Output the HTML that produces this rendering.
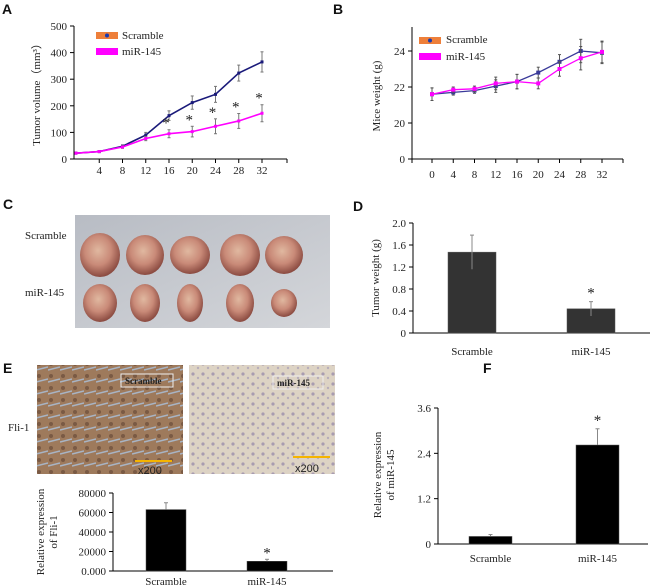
<!DOCTYPE html>
<html><head><meta charset="utf-8">
<style>
body{margin:0;background:#fff;}
#root{position:relative;width:650px;height:588px;overflow:hidden;background:#fff;}
svg text{font-family:"Liberation Serif",serif;fill:#222;}
.lbl{font-family:"Liberation Sans",sans-serif;font-weight:bold;font-size:14px;fill:#111;}
</style></head>
<body>
<div id="root">
<svg id="fig" width="650" height="588" xmlns="http://www.w3.org/2000/svg">
<defs>
<radialGradient id="tum" cx="45%" cy="40%" r="60%">
<stop offset="0%" stop-color="#e0b8a0"/><stop offset="55%" stop-color="#c98a78"/><stop offset="100%" stop-color="#8a4a40"/></radialGradient>
<linearGradient id="bg" x1="0" y1="0" x2="1" y2="1"><stop offset="0" stop-color="#b8bcc4"/><stop offset="1" stop-color="#d4d6da"/></linearGradient>
<pattern id="brown" width="12" height="12" patternUnits="userSpaceOnUse">
<rect width="12" height="12" fill="#9e7a5c"/><circle cx="3" cy="4" r="2" fill="#7a5a44"/><path d="M0 10 L12 7" stroke="#a8b4c4" stroke-width="1.5"/></pattern>
<pattern id="pale" width="10" height="10" patternUnits="userSpaceOnUse">
<rect width="10" height="10" fill="#ddd3c4"/><circle cx="3" cy="4" r="1.6" fill="#a89cb0"/><circle cx="8" cy="8" r="1.2" fill="#b8aeba"/></pattern>
</defs>
<text class="lbl" x="2" y="14">A</text>
<text class="lbl" x="333" y="14">B</text>
<text class="lbl" x="3" y="209">C</text>
<text class="lbl" x="353" y="211">D</text>
<text class="lbl" x="3" y="373">E</text>
<text class="lbl" x="483" y="373">F</text>

<g>
<rect x="75" y="215" width="255" height="113" fill="url(#bg)"/>
<g id="tumors"></g>
</g>
<text x="25" y="239" font-size="11">Scramble</text>
<text x="25" y="296" font-size="11">miR-145</text>

<g>
<rect x="37" y="365" width="146" height="109" fill="url(#brown)"/>
<rect x="121" y="374" width="52" height="13" fill="none" stroke="#eee" stroke-width="1"/>
<text x="125" y="384" font-size="9" font-weight="bold">Scramble</text>
<line x1="135" y1="461" x2="172" y2="461" stroke="#f5b400" stroke-width="2"/>
<text x="138" y="474" font-size="11" style="font-family:'Liberation Sans',sans-serif">x200</text>
</g>
<g>
<rect x="189" y="365" width="146" height="109" fill="url(#pale)"/>
<rect x="273" y="376" width="50" height="13" fill="none" stroke="#eee" stroke-width="1"/>
<text x="277" y="386" font-size="9" font-weight="bold">miR-145</text>
<line x1="293" y1="457" x2="330" y2="457" stroke="#f5b400" stroke-width="2"/>
<text x="295" y="472" font-size="11" style="font-family:'Liberation Sans',sans-serif">x200</text>
</g>
<text x="8" y="431" font-size="11">Fli-1</text>
<g id="charts"></g>
</svg>
</div>
<script>
// Panel A data
const daysA = [0,4,8,12,16,20,24,28,32];
const volScramble = [22,28,48,90,163,212,243,323,365];
const volScrambleErr = [3,4,5,10,18,25,30,30,38];
const volMir = [22,28,45,77,95,103,123,143,172];
const volMirErr = [3,3,5,8,15,20,28,28,32];
const ticksAY = [0,100,200,300,400,500];
const ticksAX = [4,8,12,16,20,24,28,32];
const starsA = [16,20,24,28,32];
// Panel B data
const daysB = [0,4,8,12,16,20,24,28,32];
const wtScramble = [21.6,21.7,21.8,22.05,22.3,22.8,23.4,24.0,23.9];
const wtMir = [21.6,21.85,21.9,22.2,22.3,22.2,23.0,23.6,23.95];
const wtErr = [0.35,0.15,0.15,0.35,0.4,0.3,0.4,0.65,0.6];
const ticksBY = [0,20,22,24];
// Panel D data
const groups = ["Scramble","miR-145"];
const tumorWeight = [1.47,0.44];
const tumorWeightErr = [0.31,0.13];
const ticksD = [0,0.4,0.8,1.2,1.6,2.0];
const ticksDLabels = ["0","0.4","0.8","1.2","1.6","2.0"];
// Panel E data
const fliExpr = [63000,10000];
const fliErr = [7000,2000];
const ticksE = [0,20000,40000,60000,80000];
const ticksELabels = ["0.000","20000","40000","60000","80000"];
// Panel F data
const mirExpr = [0.2,2.62];
const mirErr = [0.05,0.43];
const ticksF = [0,1.2,2.4,3.6];

const NS="http://www.w3.org/2000/svg";
const G=document.getElementById('charts');
function el(tag,attrs,parent,txt){const e=document.createElementNS(NS,tag);for(const k in attrs)e.setAttribute(k,attrs[k]);if(txt!==undefined)e.textContent=txt;(parent||G).appendChild(e);return e;}

const T=document.getElementById('tumors');
const tumorsX=[100,145,190,240,284];
const row1=[[20,22],[19,20],[20,19],[20,21],[19,19]];
const row2=[[17,19],[15,19],[13,19],[14,19],[13,14]];
tumorsX.forEach((x,i)=>{
 const a=el('ellipse',{cx:x,cy:255,rx:row1[i][0],ry:row1[i][1],fill:'url(#tum)'},T);
 
 
 const b=el('ellipse',{cx:x,cy:303,rx:row2[i][0],ry:row2[i][1],fill:'url(#tum)'},T);
 
 
});

function errbar(g,x,y1,y2,col,w){el('line',{x1:x,y1:y1,x2:x,y2:y2,stroke:col,'stroke-width':1},g);el('line',{x1:x-w,y1:y1,x2:x+w,y2:y1,stroke:col},g);el('line',{x1:x-w,y1:y2,x2:x+w,y2:y2,stroke:col},g);}

// ---- Panel A ----
(function(){
 const g=el('g',{});
 
 
 const X=d=>76+d*(262-76)/32, Y=v=>159-v*(159-26)/500;
 el('line',{x1:74,y1:26,x2:74,y2:159,stroke:'#000'},g);
 el('line',{x1:74,y1:159,x2:287,y2:159,stroke:'#000'},g);
 ticksAY.forEach(t=>{el('line',{x1:70,y1:Y(t),x2:74,y2:Y(t),stroke:'#000'},g);el('text',{x:67,y:Y(t)+4,'font-size':11,'text-anchor':'end'},g,t);});
 ticksAX.forEach(t=>{el('line',{x1:X(t),y1:159,x2:X(t),y2:163,stroke:'#000'},g);el('text',{x:X(t),y:174,'font-size':11,'text-anchor':'middle'},g,t);});
 el('line',{x1:287,y1:159,x2:287,y2:163,stroke:'#000'},g);
 const yt=el('text',{x:0,y:0,'font-size':11,'text-anchor':'middle',transform:'translate(40,92) rotate(-90)'},g,'Tumor volume\uFF08mm\u00B3\uFF09');
 
 
 [[volScramble,volScrambleErr,'#1a1a7a'],[volMir,volMirErr,'#ff00ff']].forEach(([v,e,c])=>{
  v.forEach((d,i)=>errbar(g,X(daysA[i]),Y(d+e[i]),Y(d-e[i]),'#777',1.5));
  const p=el('polyline',{points:v.map((d,i)=>X(daysA[i])+','+Y(d)).join(' '),fill:'none',stroke:c,'stroke-width':1.6},g);
  
  
  v.forEach((d,i)=>el('rect',{x:X(daysA[i])-1.5,y:Y(d)-1.5,width:3,height:3,fill:c},g));
 });
 starsA.forEach(dd=>{const i=daysA.indexOf(dd);el('text',{x:X(dd)-3,y:Y(volMir[i]+volMirErr[i])-2,'font-size':15,'text-anchor':'middle'},g,'*');});
 el('rect',{x:96,y:32,width:22,height:7,fill:'#ee7f3a'},g);el('circle',{cx:107,cy:35.5,r:2,fill:'#1a3ab0'},g);
 el('text',{x:122,y:39,'font-size':11},g,'Scramble');
 el('rect',{x:96,y:48,width:22,height:7,fill:'#ff00ff'},g);
 el('text',{x:122,y:55,'font-size':11},g,'miR-145');
})();

// ---- Panel B ----
(function(){
 const g=el('g',{});
 
 
 const X=d=>432+d*(602-432)/32, Y=v=>v<=20?159-v*36/20:123-(v-20)*18;
 el('line',{x1:412,y1:27,x2:412,y2:159,stroke:'#000'},g);
 el('line',{x1:412,y1:159,x2:623,y2:159,stroke:'#000'},g);
 ticksBY.forEach(t=>{el('line',{x1:408,y1:Y(t),x2:412,y2:Y(t),stroke:'#000'},g);el('text',{x:405,y:Y(t)+4,'font-size':11,'text-anchor':'end'},g,t);});
 daysB.forEach(t=>{el('line',{x1:X(t),y1:159,x2:X(t),y2:163,stroke:'#000'},g);el('text',{x:X(t),y:178,'font-size':11,'text-anchor':'middle'},g,t);});
 el('line',{x1:412,y1:159,x2:412,y2:163,stroke:'#000'},g);el('line',{x1:623,y1:159,x2:623,y2:163,stroke:'#000'},g);
 el('text',{x:0,y:0,'font-size':11,'text-anchor':'middle',transform:'translate(380,96) rotate(-90)'},g,'Mice weight (g)');
 [[wtScramble,'#3a3a9a'],[wtMir,'#ff00ff']].forEach(([v,c])=>{
  v.forEach((d,i)=>errbar(g,X(daysB[i]),Y(d+wtErr[i]),Y(d-wtErr[i]),'#555',1.5));
  el('polyline',{points:v.map((d,i)=>X(daysB[i])+','+Y(d)).join(' '),fill:'none',stroke:c,'stroke-width':1.3},g);
  v.forEach((d,i)=>el('rect',{x:X(daysB[i])-2,y:Y(d)-2,width:4,height:4,fill:c},g));
 });
 el('rect',{x:419,y:37,width:22,height:7,fill:'#ee7f3a'},g);el('circle',{cx:430,cy:40.5,r:2,fill:'#1a3ab0'},g);
 el('text',{x:446,y:43,'font-size':11},g,'Scramble');
 el('rect',{x:419,y:53,width:22,height:7,fill:'#ff00ff'},g);
 el('text',{x:446,y:60,'font-size':11},g,'miR-145');
})();

function barChart(name,cfg){
 const g=el('g',{});
 
 
 const Y=v=>cfg.y0-(v/cfg.max)*(cfg.y0-cfg.yTop);
 el('line',{x1:cfg.ax,y1:cfg.yTop,x2:cfg.ax,y2:cfg.y0,stroke:'#000'},g);
 el('line',{x1:cfg.ax,y1:cfg.y0,x2:cfg.xEnd,y2:cfg.y0,stroke:'#000'},g);
 cfg.ticks.forEach((t,i)=>{el('line',{x1:cfg.ax-4,y1:Y(t),x2:cfg.ax,y2:Y(t),stroke:'#000'},g);el('text',{x:cfg.ax-7,y:Y(t)+4,'font-size':11,'text-anchor':'end'},g,cfg.tickLabels?cfg.tickLabels[i]:t);});
 cfg.values.forEach((v,i)=>{
  const b=el('rect',{x:cfg.bx[i],y:Y(v),width:cfg.bw,height:cfg.y0-Y(v),fill:cfg.fill,stroke:'#555','stroke-width':0.5},g);
  
  
  const cx=cfg.bx[i]+cfg.bw/2;
  el('line',{x1:cx,y1:Y(v+cfg.err[i]),x2:cx,y2:cfg.bothErr?Y(v-cfg.err[i]):Y(v),stroke:'#888'},g);
  el('line',{x1:cx-2,y1:Y(v+cfg.err[i]),x2:cx+2,y2:Y(v+cfg.err[i]),stroke:'#888'},g);
  el('text',{x:cx,y:cfg.labY,'font-size':11,'text-anchor':'middle'},g,groups[i]);
 });
 const i=1,cx=cfg.bx[i]+cfg.bw/2;
 el('text',{x:cx,y:Y(cfg.values[i]+cfg.err[i])+cfg.starOff,'font-size':15,'text-anchor':'middle'},g,'*');
 const t=el('text',{x:0,y:0,'font-size':11,'text-anchor':'middle',transform:'translate('+cfg.tx+','+cfg.ty+') rotate(-90)'},g);
 cfg.title.forEach((s,k)=>el('tspan',{x:0,dy:k?13:0},t,s));
}
barChart('tumor-weight-chart',{ax:413,xEnd:650,y0:333,yTop:223,max:2.0,ticks:ticksD,tickLabels:ticksDLabels,values:tumorWeight,err:tumorWeightErr,bothErr:true,bx:[448,567],bw:48,fill:'#333',labY:355,tx:379,ty:278,title:['Tumor weight (g)'],starOff:-4});
barChart('fli1-expression-chart',{ax:113,xEnd:333,y0:571,yTop:493,max:80000,ticks:ticksE,tickLabels:ticksELabels,values:fliExpr,err:fliErr,bothErr:false,bx:[146,247],bw:40,fill:'#000',labY:585,tx:44,ty:532,title:['Relative expression','of Fli-1'],starOff:-2});
barChart('mir145-expression-chart',{ax:438,xEnd:648,y0:544,yTop:408,max:3.6,ticks:ticksF,values:mirExpr,err:mirErr,bothErr:false,bx:[469,576],bw:43,fill:'#000',labY:562,tx:381,ty:475,title:['Relative expression','of miR-145'],starOff:-4});
</script>
</body></html>
